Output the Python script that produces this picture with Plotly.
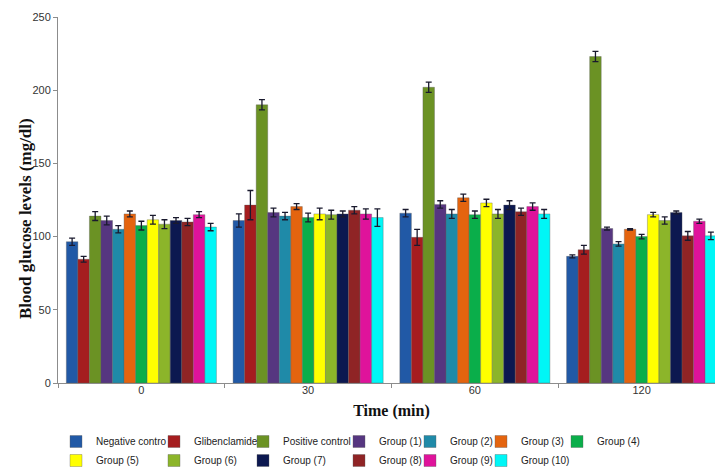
import plotly.graph_objects as go

categories = ["0", "30", "60", "120"]

series_names = [
    "Negative contro", "Glibenclamide", "Positive control", "Group (1)",
    "Group (2)", "Group (3)", "Group (4)", "Group (5)", "Group (6)",
    "Group (7)", "Group (8)", "Group (9)", "Group (10)",
]

negative_control = [96.5, 111, 116, 86.5]
glibenclamide = [84.5, 121.5, 99.5, 91]
positive_control = [114, 190, 202, 223]
group_1 = [111, 116.5, 122, 105.5]
group_2 = [105, 114, 115.5, 95]
group_3 = [115.5, 120.5, 126.5, 105]
group_4 = [107.5, 113, 115, 100]
group_5 = [111.5, 115.5, 123, 115]
group_6 = [108.5, 115, 115.5, 111]
group_7 = [111, 115.5, 121.5, 116.5]
group_8 = [110, 118, 117, 100.5]
group_9 = [115, 115.5, 120.5, 110.5]
group_10 = [106.5, 113, 115.5, 100.5]

negative_control_err = [2.5, 4.5, 2.5, 1]
glibenclamide_err = [2, 10, 5.5, 3]
positive_control_err = [3, 3.5, 3.5, 3.5]
group_1_err = [3, 3, 2.5, 1]
group_2_err = [2.5, 2.5, 3, 1.5]
group_3_err = [2, 2, 2.5, 0.5]
group_4_err = [3, 3, 2.5, 1.5]
group_5_err = [3, 4, 2.5, 1.5]
group_6_err = [3, 3, 3, 2.5]
group_7_err = [2, 2, 3, 1]
group_8_err = [2.5, 2.5, 2.5, 3]
group_9_err = [2, 3.5, 2.5, 1.5]
group_10_err = [2.5, 6, 3, 2.5]

values = [negative_control, glibenclamide, positive_control, group_1, group_2,
          group_3, group_4, group_5, group_6, group_7, group_8, group_9, group_10]
errors = [negative_control_err, glibenclamide_err, positive_control_err, group_1_err,
          group_2_err, group_3_err, group_4_err, group_5_err, group_6_err,
          group_7_err, group_8_err, group_9_err, group_10_err]

colors = ["#2159a6", "#a51d1f", "#6b9224", "#563680", "#1f8aa8", "#e4640f",
          "#0aae4a", "#ffff00", "#8cb52a", "#0c1850", "#8f2425", "#df139b", "#00f6f6"]

# legend columns (pixel x of each column's swatch) -- layout only
legend_cols_px = [78, 176, 265, 361, 432, 503, 579]
n_cols = len(legend_cols_px)

L, R, T, B = 50, 6, 9, 95
W, H = 723, 470
pw, ph = W - L - R, H - T - B


def legend_ref(i):
    c = i % n_cols
    return "legend" if c == 0 else f"legend{c + 1}"


fig = go.Figure()
for i, (name, vals, errs, col) in enumerate(zip(series_names, values, errors, colors)):
    fig.add_trace(go.Bar(
        x=categories, y=vals, name=name,
        marker=dict(color=col, line=dict(color="rgba(90,90,90,0.6)", width=0.6)),
        error_y=dict(type="data", array=errs, visible=True, color="#1a1a2e",
                     thickness=1.3, width=3),
        legend=legend_ref(i),
    ))

legends = {}
for c, px in enumerate(legend_cols_px):
    key = "legend" if c == 0 else f"legend{c + 1}"
    legends[key] = dict(
        orientation="v", xanchor="left", yanchor="top",
        x=(px - 30 - L) / pw, y=(375 - 419) / ph,
        font=dict(family="Liberation Sans", size=10, color="#222"),
        itemwidth=30, bgcolor="rgba(0,0,0,0)", tracegroupgap=0,
    )

fig.update_layout(
    width=W, height=H,
    margin=dict(l=L, r=R, t=T, b=B, autoexpand=False),
    paper_bgcolor="white", plot_bgcolor="white",
    barmode="group", bargap=0.1, bargroupgap=0,
    showlegend=True,
    **legends,
    xaxis=dict(
        type="category", showgrid=False, showline=True, linecolor="#8c8c8c",
        linewidth=1, ticks="outside", tickson="boundaries", ticklen=4,
        tickcolor="#8c8c8c", ticklabelstandoff=-3,
        tickfont=dict(family="Liberation Sans", size=11, color="#333"),
        title=dict(text="<b>Time (min)</b>", standoff=9,
                   font=dict(family="Liberation Serif", size=16, color="#111")),
    ),
    yaxis=dict(
        range=[0, 250], dtick=50, showgrid=False, showline=True,
        linecolor="#8c8c8c", linewidth=1, ticks="outside", ticklen=4,
        tickcolor="#8c8c8c", zeroline=False,
        tickfont=dict(family="Liberation Sans", size=11, color="#333"),
    ),
    annotations=[dict(
        text="<b>Blood glucose levels (mg/dl)</b>", textangle=-90,
        xref="paper", yref="paper", x=(18 - L) / pw, y=(375 - 211) / ph,
        xanchor="center", yanchor="middle", showarrow=False,
        font=dict(family="Liberation Serif", size=17, color="#111"),
    )],
)

fig.write_html("out.html")
